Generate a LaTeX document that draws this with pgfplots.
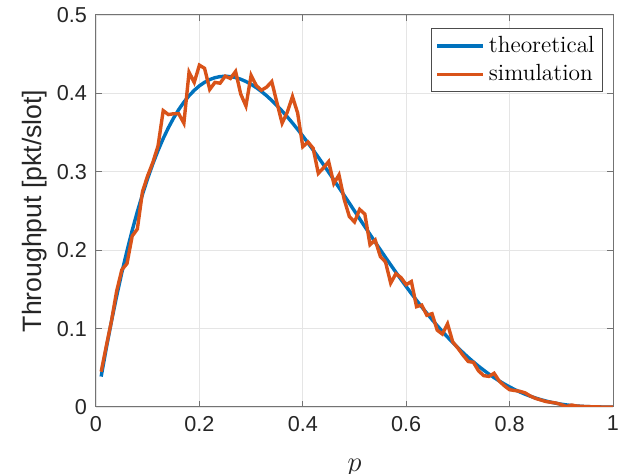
\documentclass[border=0pt]{standalone}
\usepackage{fontspec}
\usepackage{pgfplots}
\usepackage{pgfplotstable}
\pgfplotsset{compat=1.18}
\newfontfamily\arial{Liberation Sans}
\definecolor{mblue}{HTML}{0072BD}
\definecolor{morange}{HTML}{D95319}
\definecolor{mtext}{HTML}{262626}

% p, theoretical, simulation
\pgfplotstableread{
p th sim
0.01 0.03881 0.045
0.02 0.07530 0.078
0.03 0.10952 0.110
0.04 0.14156 0.148
0.05 0.17148 0.175
0.06 0.19934 0.183
0.07 0.22522 0.218
0.08 0.24918 0.227
0.09 0.27129 0.275
0.10 0.29160 0.295
0.11 0.31019 0.312
0.12 0.32711 0.333
0.13 0.34242 0.378
0.14 0.35619 0.373
0.15 0.36848 0.374
0.16 0.37933 0.374
0.17 0.38882 0.362
0.18 0.39699 0.427
0.19 0.40390 0.414
0.20 0.40960 0.436
0.21 0.41415 0.432
0.22 0.41761 0.405
0.23 0.42001 0.414
0.24 0.42142 0.413
0.25 0.42188 0.422
0.26 0.42143 0.419
0.27 0.42014 0.428
0.28 0.41804 0.399
0.29 0.41518 0.384
0.30 0.41160 0.423
0.31 0.40735 0.410
0.32 0.40247 0.404
0.33 0.39701 0.408
0.34 0.39099 0.415
0.35 0.38448 0.388
0.36 0.37749 0.362
0.37 0.37007 0.376
0.38 0.36226 0.396
0.39 0.35409 0.375
0.40 0.34560 0.332
0.41 0.33682 0.338
0.42 0.32779 0.330
0.43 0.31853 0.298
0.44 0.30908 0.305
0.45 0.29948 0.313
0.46 0.28973 0.285
0.47 0.27989 0.296
0.48 0.26997 0.265
0.49 0.26000 0.243
0.50 0.25000 0.236
0.51 0.24000 0.252
0.52 0.23003 0.246
0.53 0.22010 0.207
0.54 0.21025 0.213
0.55 0.20048 0.192
0.56 0.19081 0.185
0.57 0.18128 0.158
0.58 0.17188 0.170
0.59 0.16265 0.165
0.60 0.15360 0.156
0.61 0.14474 0.160
0.62 0.13608 0.128
0.63 0.12765 0.130
0.64 0.11944 0.117
0.65 0.11148 0.119
0.66 0.10376 0.098
0.67 0.09631 0.093
0.68 0.08913 0.106
0.69 0.08222 0.083
0.70 0.07560 0.075
0.71 0.06926 0.066
0.72 0.06322 0.058
0.73 0.05747 0.057
0.74 0.05202 0.046
0.75 0.04688 0.040
0.76 0.04202 0.039
0.77 0.03747 0.043
0.78 0.03322 0.033
0.79 0.02926 0.027
0.80 0.02560 0.022
0.81 0.02222 0.021
0.82 0.01913 0.020
0.83 0.01631 0.018
0.84 0.01376 0.014
0.85 0.01148 0.011
0.86 0.00944 0.009
0.87 0.00765 0.007
0.88 0.00608 0.006
0.89 0.00474 0.005
0.90 0.00360 0.003
0.91 0.00265 0.0005
0.92 0.00188 0.0025
0.93 0.00128 0.0012
0.94 0.00081 0.0008
0.95 0.00048 0.0005
0.96 0.00025 0.0003
0.97 0.00010 0.0001
0.98 0.00003 0.0000
0.99 0.00000 0.0000
1.00 0.00000 0.0000
}\datatable

\begin{document}
\begin{tikzpicture}
\useasboundingbox (-48pt,-33.5pt) rectangle (262.5pt,203.5pt);
\begin{axis}[
  at={(0,0)}, anchor=south west,
  scale only axis,
  width=258.5pt, height=196pt,
  xmin=0, xmax=1, ymin=0, ymax=0.5,
  xtick={0,0.2,...,1.0},
  ytick={0,0.1,...,0.5},
  tick align=inside,
  major tick length=2.8pt,
  grid=major,
  major grid style={draw=black!10, line width=0.4pt},
  axis line style={draw=black!55, line width=0.5pt},
  every tick/.style={draw=black!55, line width=0.5pt},
  tick label style={font=\arial\fontsize{10.8}{12}\selectfont, text=mtext},
  /pgf/number format/assume math mode=true,
  xticklabel style={yshift=-1pt},
  yticklabel style={xshift=-1pt},
  xlabel={$p$},
  xlabel style={font=\fontsize{14.5}{15}\selectfont, text=mtext, yshift=-7pt},
  ylabel={Throughput [pkt/slot]},
  ylabel style={font=\arial\fontsize{13.3}{14}\selectfont, text=mtext, yshift=-2pt},
  legend style={
    at={(1,1)}, anchor=north east, xshift=-5pt, yshift=-6.5pt,
    draw=black!70, line width=0.4pt, fill=white,
    font=\fontsize{11.7}{13}\selectfont,
    inner sep=2pt, row sep=0.5pt,
    cells={anchor=west},
  },
  legend image code/.code={\draw[#1, line width=1.7pt] (0pt,0pt) -- (23pt,0pt);},
]
\addplot[color=mblue, line width=1.7pt] table[x=p, y=th] {\datatable};
\addlegendentry{theoretical}
\addplot[color=morange, line width=1.7pt] table[x=p, y=sim] {\datatable};
\addlegendentry{simulation}
\end{axis}
\end{tikzpicture}
\end{document}
